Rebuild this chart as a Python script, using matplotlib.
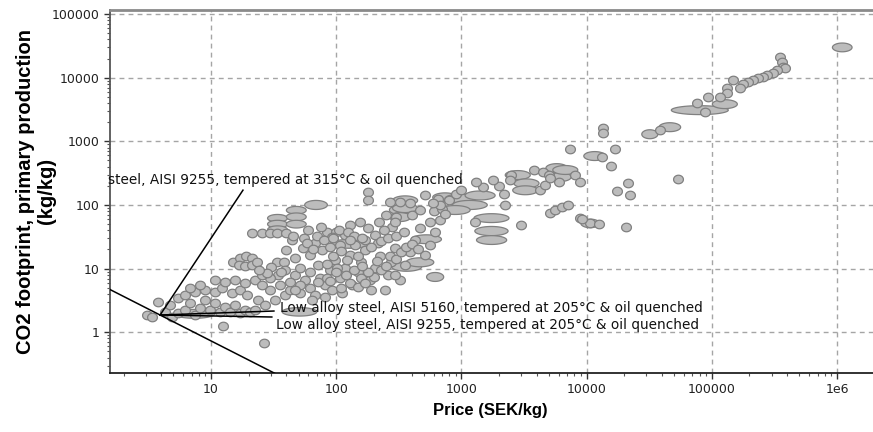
import numpy as np
import matplotlib
matplotlib.use("Agg")
import matplotlib.pyplot as plt
from matplotlib.ticker import LogLocator, NullFormatter

# ---------------- data ----------------
# single materials drawn as small round bubbles: price (SEK/kg), CO2 footprint (kg/kg)
price = [3.1, 3.4, 3.8, 4.3, 4.9, 5.4, 4.7, 6.2, 6.8, 7.4, 8.1, 8.9, 9.8, 10.7, 11.7, 12.9, 14.1,
         15.5, 17, 18.6, 20.4, 22.4, 12.4, 26.3,
         5.4, 6.2, 7.4, 8.9, 10.7, 12.3, 14.8, 17, 19.5, 23.7, 26.9, 32.4, 38.9, 29.5, 35.5, 42.7,
         51.3, 61.7, 67.6, 12.9, 15.5, 18.6, 22.4, 25.4, 10.7, 8.1, 6.8,
         15.1, 17, 19, 21.4, 16.6, 18.6, 21.4, 23.4, 33.9, 38,
         21.4, 25.7, 29.5, 33.9, 39.8, 44, 84, 100, 92,
         155, 178, 204, 170, 214,
         47, 51, 56, 62, 71, 74, 81, 89, 98, 107, 117, 129, 133, 148, 159, 170, 186, 204, 224, 245,
         257, 275, 295, 324, 355, 389, 427, 468, 513, 562, 617, 676,
         40, 47, 54, 62, 68, 77, 107, 117, 129, 93, 112, 64, 81, 34, 39, 29.5, 25.4, 42.7, 51,
         47, 71, 85, 102, 123, 141, 159, 191, 229, 295,
         110, 130, 150, 170, 200, 120, 140, 90, 100, 180, 160, 210, 250, 270, 300, 330, 360, 400,
         450, 85, 95, 110, 150, 190, 230, 260, 300, 350, 280, 240, 220, 250, 300, 400, 600, 700,
         800, 900, 1000, 1500, 2000, 1800, 2500, 1300, 650, 3800, 4500, 2200, 6000, 5000,
         45, 55, 60, 70, 75, 58, 65, 80, 90, 95, 105, 125, 140, 160, 130, 36, 30, 28, 24,
         178, 178, 269, 324, 389, 468, 295, 562, 676, 741, 1290, 3020, 2450, 2240, 4270, 4680,
         8130, 8910, 5130, 589, 513,
         5130, 5620, 6310, 7080, 8910, 10700, 12600, 9130, 20600,
         7350, 13500, 13500, 16800, 13200, 15800, 21400, 17400, 22100, 53500, 38400,
         349000, 362000, 369000, 383000, 330000, 307000, 275000, 255000, 233000, 212000, 194000,
         177000, 167000, 147000, 132000, 132000, 116000, 93000, 76000, 88000]
co2 = [1.86, 1.74, 3.0, 2.1, 1.74, 2.0, 2.7, 2.24, 2.9, 1.86, 2.4, 3.2, 2.24, 2.9, 2.1, 2.5, 2.1,
       2.7, 2.0, 2.24, 2.1, 2.24, 1.26, 0.68,
       3.5, 3.9, 4.3, 4.6, 4.3, 5.0, 4.2, 4.6, 3.9, 3.2, 2.7, 3.2, 3.9, 4.6, 5.5, 4.6,
       4.2, 5.0, 3.9, 6.2, 6.6, 5.9, 6.6, 5.5, 6.6, 5.6, 5.0,
       12.6, 14.8, 15.8, 14.8, 11.5, 11, 11.5, 12.6, 12.6, 12.6,
       36, 36, 36, 36, 36, 28, 37.6, 37.6, 31.6,
       54, 44, 34, 28, 25,
       7.9, 10.2, 6.6, 8.9, 11.5, 7.1, 5.5, 9.5, 13.8, 7.1, 10.2, 16.2, 5.5, 8.9, 12.6, 19.5, 6.6,
       10.2, 15.8, 4.6, 7.9, 12.6, 21, 6.6, 11.5, 18.2, 28, 44, 16.2, 23.4, 38, 58,
       19.5, 14.8, 21, 16.2, 25, 19.5, 23.4, 34, 49, 4.6, 4.2, 3.2, 3.6, 7.9, 9.5, 7.1, 7.9, 6.2, 5.5,
       4.6, 6.2, 7.1, 10.2, 13.8, 23.4, 7.1, 4.6, 9.5, 7.9,
       5.0, 6.0, 5.2, 6.0, 7.5, 8.0, 9.5, 6.5, 9.0, 9.0, 11, 13, 11, 16, 14, 18, 22, 24,
       20, 12, 16, 19, 16, 22, 27, 30, 32, 38, 45, 40, 55, 70, 65, 70, 80, 85,
       120, 150, 170, 190, 200, 250, 300, 230, 125, 350, 330, 150, 230, 300,
       33, 30, 40, 32, 45, 25, 20, 28, 22, 30, 40, 38, 32, 30, 28, 9.0, 10.5, 8.5, 9.5,
       158, 120, 112, 112, 107, 83, 54, 54, 100, 72, 54, 49, 245, 100, 170, 204,
       295, 229, 263, 107, 141,
       74, 83, 93, 100, 62, 52, 50, 60, 45,
       754, 1610, 1340, 754, 565, 408, 220, 165, 143, 255, 1500,
       20900, 17500, 14600, 14100, 13100, 11800, 11000, 10200, 9800, 9130, 8500,
       7900, 6840, 9130, 6840, 5720, 4940, 4940, 3980, 2870]

# materials with wide property ranges, drawn as ellipses spanning low..high
ell_price_lo = [0.92e6, 47500, 101000, 37900, 27600, 9500, 4730, 5060, 5370, 2240, 2630, 2570,
                1260, 1280, 1320, 590, 740, 850, 675, 1070, 266, 266, 282, 282, 277, 362, 527,
                398, 89, 56, 28.3, 28.3, 28.3, 40, 40, 40, 9000, 37, 5.1]
ell_price_hi = [1.32e6, 135500, 160000, 56400, 37100, 14200, 7040, 7530, 8510, 3550, 4170, 4080,
                2400, 2360, 2300, 930, 1290, 1610, 1175, 1860, 395, 395, 447, 447, 482, 602, 722,
                693, 186, 85, 40.8, 40.8, 40.8, 57.6, 57.6, 57.6, 12700, 70, 10.7]
ell_co2_lo = [25500, 2630, 3270, 1420, 1100, 500, 323, 234, 302, 251, 186, 145,
              53, 33, 24, 112, 107, 85, 71, 120, 71, 55, 100, 76, 9.1, 10.7, 6.3,
              24.7, 20.9, 85, 54, 43.5, 35.7, 72, 56.5, 43.5, 44, 1.8, 1.66]
ell_co2_hi = [35000, 3630, 4510, 1960, 1520, 690, 446, 323, 417, 347, 257, 200,
              73, 46, 33, 155, 148, 118, 98, 166, 98, 76, 139, 105, 12.6, 14.8, 8.7,
              34, 28.8, 118, 71, 57.5, 47, 95, 75, 57.5, 60, 2.45, 2.29]

# labelled material and its annotation texts
sel_price, sel_co2 = 3.92, 1.87
label_texts = ["steel, AISI 9255, tempered at 315°C & oil quenched",
               "Low alloy steel, AISI 5160, tempered at 205°C & oil quenched",
               "Low alloy steel, AISI 9255, tempered at 205°C & oil quenched"]
label_price = [1.5, 35.5, 33.0]
label_co2 = [246, 2.41, 1.30]
leader_end_price = [18.0, 31.8, 30.6]
leader_end_co2 = [171, 2.16, 1.74]
guide_const = sel_price * sel_co2   # price * CO2 = const guide line (slope -1)

xtick_vals = [10, 100, 1000, 10000, 100000, 1e6]
xtick_labels = ["10", "100", "1000", "10000", "100000", "1e6"]
ytick_vals = [1, 10, 100, 1000, 10000, 100000]
ytick_labels = ["1", "10", "100", "1000", "10000", "100000"]

# ---------------- figure ----------------
plt.rcParams['font.family'] = ['DejaVu Sans']
fig = plt.figure(figsize=(8.73, 4.32), dpi=100)
ax = fig.add_axes([110/873, 1 - 373/432, 763/873, 363/432])
ax.set_xscale('log')
ax.set_yscale('log')
ax.set_xlim(1.56, 1.94e6)
ax.set_ylim(0.2296, 115600)

FACE = '#bcbcbc'
EDGE = '#808080'

t = np.linspace(0, 2*np.pi, 60)
for plo, phi, clo, chi in zip(ell_price_lo, ell_price_hi, ell_co2_lo, ell_co2_hi):
    lxc = (np.log10(plo) + np.log10(phi)) / 2
    lxr = (np.log10(phi) - np.log10(plo)) / 2
    lyc = (np.log10(clo) + np.log10(chi)) / 2
    lyr = (np.log10(chi) - np.log10(clo)) / 2
    ax.fill(10**(lxc + lxr*np.cos(t)), 10**(lyc + lyr*np.sin(t)),
            facecolor=FACE, edgecolor=EDGE, linewidth=0.9, zorder=3)

ell_marker = np.c_[1.15*np.cos(t), np.sin(t)]
ax.scatter(price, co2, marker=ell_marker, s=50, facecolor=FACE, edgecolor=EDGE,
           linewidth=0.9, zorder=4)

# guide line and leaders
gx = np.array([1.0, 1e7])
ax.plot(gx, guide_const / gx, color='black', linewidth=1.1, zorder=5)
for ep, ec in zip(leader_end_price, leader_end_co2):
    ax.plot([sel_price, ep], [sel_co2, ec], color='black', linewidth=1.1, zorder=5)
for txt, lp, lc in zip(label_texts, label_price, label_co2):
    ax.text(lp, lc, txt, fontsize=9.8, ha='left', va='center', color='#111111',
            zorder=6, clip_on=False)

# grid
ax.grid(True, which='major', linestyle=(0, (3.5, 3)), color='#a5a5a5', linewidth=1.0)
ax.set_axisbelow(True)

ax.set_xticks(xtick_vals)
ax.set_xticklabels(xtick_labels)
ax.set_yticks(ytick_vals)
ax.set_yticklabels(ytick_labels)
ax.xaxis.set_minor_locator(LogLocator(base=10, subs=np.arange(2, 10), numticks=20))
ax.yaxis.set_minor_locator(LogLocator(base=10, subs=np.arange(2, 10), numticks=20))
ax.xaxis.set_minor_formatter(NullFormatter())
ax.yaxis.set_minor_formatter(NullFormatter())
ax.tick_params(which='major', length=4, width=1, labelsize=9, colors='#333333')
ax.tick_params(which='minor', length=2.5, width=0.8, colors='#555555')
ax.tick_params(axis='both', labelcolor='#222222')

ax.spines['right'].set_visible(False)
ax.spines['top'].set_color('#8a8a8a')
ax.spines['top'].set_linewidth(2)
ax.spines['left'].set_color('#555555')
ax.spines['left'].set_linewidth(1.3)
ax.spines['bottom'].set_color('#222222')
ax.spines['bottom'].set_linewidth(1.3)

fig.text(490/873, 1 - 411/432, "Price (SEK/kg)", fontsize=12, fontweight='bold',
         family=['Liberation Sans'], ha='center', va='center')
fig.text(36/873, 1 - 191/432, "CO2 footprint, primary production\n(kg/kg)", fontsize=14.5,
         fontweight='bold', family=['Liberation Sans'], ha='center', va='center',
         rotation=90, linespacing=1.15)

fig.savefig("out.png", dpi=100)
